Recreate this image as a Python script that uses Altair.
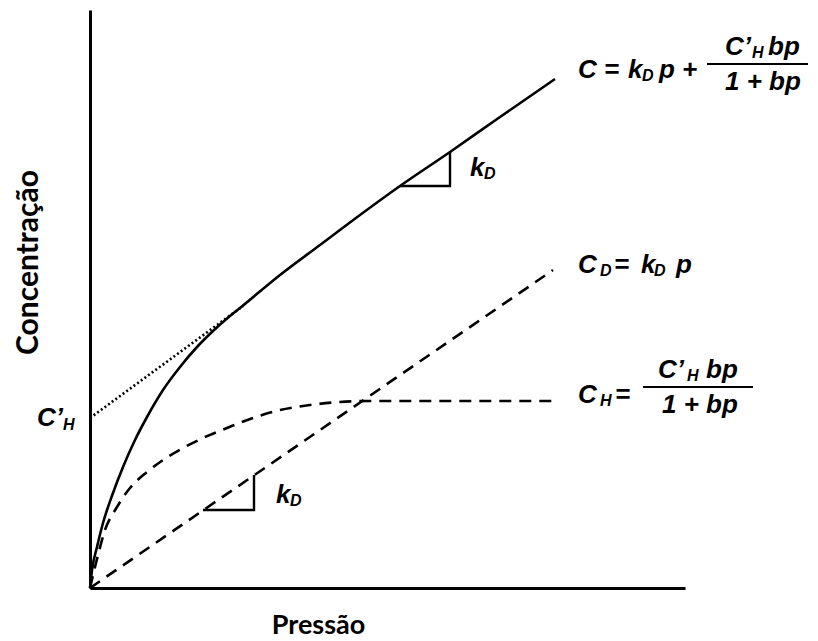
import altair as alt
import pandas as pd

# ---- data (diagram units: pressure p, concentration C) ----
p_total = [0, 2, 7, 13, 23, 33, 45, 57, 73, 90, 107, 123, 140, 150, 190, 230, 270, 310, 360, 410, 465]
c_total = [0, 18, 41, 65, 95, 121, 148, 171, 198, 221, 241, 257, 272, 280, 313, 343, 373, 402, 436, 471, 509]

p_dissolved = [0, 463]
c_dissolved = [0, 318]

p_langmuir = [0, 8, 15, 27, 40, 57, 73, 93, 113, 137, 160, 190, 220, 250, 280, 463]
c_langmuir = [0, 33, 58, 81, 100, 116, 128, 140, 150, 160, 169, 178, 183, 186, 187, 187]

p_tangent = [0, 153]
c_tangent = [170, 282]

# slope triangles (kD)
tri_low_p = [113, 164, 164]
tri_low_c = [78, 78, 113]
tri_high_p = [310, 360, 360]
tri_high_c = [402, 402, 436]

# text pieces: text, p, C, font size
txt_text = ["C =", "k", "D", "p +", "C’", "H", "bp", "1 + bp",
            "C", "D", "=", "k", "D", "p",
            "C", "H", "=", "C’", "H", "bp", "1 + bp",
            "k", "D", "k", "D", "C’", "H"]
txt_p = [488, 538, 552, 569, 635, 662, 678, 635,
         488, 510, 524, 551, 564, 586,
         488, 510, 525, 568, 597, 616, 572,
         380, 394, 186, 200, -53, -27]
txt_c = [518, 518, 512, 518, 541, 535, 541, 506,
         323, 317, 323, 323, 317, 323,
         193, 187, 193, 218, 212, 218, 183,
         420, 414, 93, 87, 170, 163]
txt_size = [26, 26, 16, 26, 26, 16, 26, 26,
            26, 16, 26, 26, 16, 26,
            26, 16, 26, 26, 16, 26, 26,
            26, 16, 26, 16, 26, 16]

# fraction bars
bar_p1 = [617, 553]
bar_p2 = [718, 663]
bar_c = [524, 201]

X_DOM = [0, 595]
Y_DOM = [0, 578]

xs = alt.Scale(domain=X_DOM, nice=False, zero=False)
ys = alt.Scale(domain=Y_DOM, nice=False, zero=False)

def line_df(p, c, name):
    return pd.DataFrame({"p": p, "c": c, "s": name, "o": list(range(len(p)))})

df_total = line_df(p_total, c_total, "C")
df_diss = line_df(p_dissolved, c_dissolved, "CD")
df_lang = line_df(p_langmuir, c_langmuir, "CH")
df_tan = line_df(p_tangent, c_tangent, "tan")
df_tri1 = line_df(tri_low_p, tri_low_c, "t1")
df_tri2 = line_df(tri_high_p, tri_high_c, "t2")
df_txt = pd.DataFrame({"t": txt_text, "p": txt_p, "c": txt_c, "sz": txt_size})
df_bar = pd.DataFrame({"p1": bar_p1, "p2": bar_p2, "c": bar_c})

x_axis = alt.Axis(title="Pressão", ticks=False, labels=False, grid=False,
                  domainColor="black", domainWidth=3,
                  titleFont="Lato", titleFontSize=27, titleFontWeight="bold",
                  titleColor="black", titleX=228, titleY=37, titleBaseline="middle")
y_axis = alt.Axis(title="Concentração", ticks=False, labels=False, grid=False,
                  domainColor="black", domainWidth=3,
                  titleFont="Lato", titleFontSize=30, titleFontWeight="bold",
                  titleColor="black", titleX=-62, titleY=252, titleAngle=-90,
                  titleBaseline="middle", titleAlign="center")

base_enc = dict(
    x=alt.X("p:Q", scale=xs, axis=x_axis),
    y=alt.Y("c:Q", scale=ys, axis=y_axis),
    order="o:Q",
)

total = alt.Chart(df_total).mark_line(color="black", strokeWidth=2.6, interpolate="monotone").encode(**base_enc)
diss = alt.Chart(df_diss).mark_line(color="black", strokeWidth=2.6, strokeDash=[12, 8]).encode(**base_enc)
lang = alt.Chart(df_lang).mark_line(color="black", strokeWidth=2.6, strokeDash=[12, 8], interpolate="monotone").encode(**base_enc)
tan = alt.Chart(df_tan).mark_line(color="black", strokeWidth=2.6, strokeDash=[2, 2.5]).encode(**base_enc)
tri1 = alt.Chart(df_tri1).mark_line(color="black", strokeWidth=2.4).encode(**base_enc)
tri2 = alt.Chart(df_tri2).mark_line(color="black", strokeWidth=2.4).encode(**base_enc)

texts = alt.Chart(df_txt).mark_text(
    font="Liberation Sans", fontStyle="italic", fontWeight="bold",
    align="left", baseline="middle", color="black"
).encode(
    x=alt.X("p:Q", scale=xs),
    y=alt.Y("c:Q", scale=ys),
    text="t:N",
    size=alt.Size("sz:Q", scale=None),
)

bars = alt.Chart(df_bar).mark_rule(color="black", strokeWidth=2).encode(
    x=alt.X("p1:Q", scale=xs), x2="p2:Q", y=alt.Y("c:Q", scale=ys)
)

chart = alt.layer(total, diss, lang, tan, tri1, tri2, texts, bars).properties(
    width=595, height=578,
    padding={"left": 90, "top": 10, "right": 133, "bottom": 53},
    autosize=alt.AutoSizeParams(type="none"),
).configure(background="white").configure_view(stroke=None)

chart.save("out.html", embed_options={"renderer": "svg", "actions": False})
